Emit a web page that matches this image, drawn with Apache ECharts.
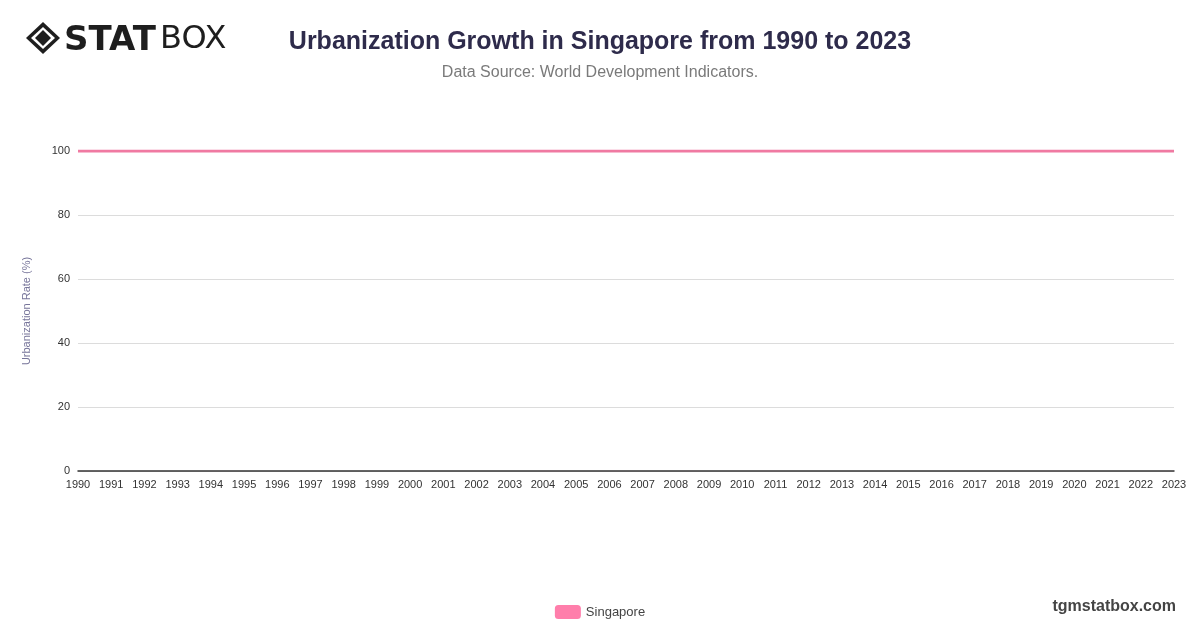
<!DOCTYPE html>
<html>
<head>
    <meta charset="utf-8">
    <script src="https://cdn.jsdelivr.net/npm/echarts@6/dist/echarts.min.js"></script>
</head>
<body style="margin: 0; background: #fff">
    <div id="main" style="width: 1200px; height: 628px"></div>
    <script type="text/javascript">
        var years = ['1990', '1991', '1992', '1993', '1994', '1995', '1996', '1997', '1998', '1999',
            '2000', '2001', '2002', '2003', '2004', '2005', '2006', '2007', '2008', '2009',
            '2010', '2011', '2012', '2013', '2014', '2015', '2016', '2017', '2018', '2019',
            '2020', '2021', '2022', '2023'];
        var singapore = [100, 100, 100, 100, 100, 100, 100, 100, 100, 100,
            100, 100, 100, 100, 100, 100, 100, 100, 100, 100,
            100, 100, 100, 100, 100, 100, 100, 100, 100, 100,
            100, 100, 100, 100];

        var dom = document.getElementById('main');
        var myChart = echarts.init(dom, null, { renderer: 'canvas' });
        var font = 'Helvetica, Arial, "Liberation Sans", sans-serif';

        var option = {
            animation: false,
            backgroundColor: '#fff',
            title: {
                text: 'Urbanization Growth in Singapore from 1990 to 2023',
                subtext: 'Data Source: World Development Indicators.',
                left: 'center',
                top: 25,
                itemGap: 10,
                textStyle: { fontFamily: font, fontSize: 25, fontWeight: 'bold', color: '#2e2b4b' },
                subtextStyle: { fontFamily: font, fontSize: 16, color: '#7a7a7a' }
            },
            legend: {
                bottom: 4,
                left: 'center',
                itemWidth: 26,
                itemHeight: 14,
                icon: 'roundRect',
                textStyle: { fontFamily: font, fontSize: 13, color: '#444' },
                data: ['Singapore']
            },
            grid: { left: 78, right: 26, top: 151, bottom: 157 },
            xAxis: {
                type: 'category',
                boundaryGap: false,
                data: years,
                axisLine: { lineStyle: { color: '#333', width: 1.5 } },
                axisTick: { show: false },
                axisLabel: { fontFamily: font, fontSize: 11, color: '#333', margin: 8, interval: 0 }
            },
            yAxis: {
                type: 'value',
                min: 0,
                max: 100,
                interval: 20,
                name: 'Urbanization Rate (%)',
                nameLocation: 'middle',
                nameGap: 46,
                nameTextStyle: { fontFamily: font, fontSize: 11, color: '#77759a' },
                axisLabel: { fontFamily: font, fontSize: 11, color: '#333', margin: 8 },
                splitLine: { lineStyle: { color: '#dcdcdc' } }
            },
            series: [{
                name: 'Singapore',
                type: 'line',
                data: singapore,
                symbol: 'none',
                itemStyle: { color: '#ff7eab' },
                lineStyle: { color: '#f07aa2', width: 3 }
            }],
            graphic: [
                {
                    type: 'group', left: 26, top: 22,
                    children: [
                        { type: 'polygon', shape: { points: [[17, 0], [34, 16], [17, 32], [0, 16]] }, style: { fill: '#1e1e1e' } },
                        { type: 'polygon', shape: { points: [[17, 5], [29, 16], [17, 27], [5, 16]] }, style: { fill: '#fff' } },
                        { type: 'polygon', shape: { points: [[17, 8], [25, 16], [17, 24], [9, 16]] }, style: { fill: '#1e1e1e' } },
                        { type: 'text', x: 38, y: 2, style: { text: 'STAT', fontFamily: '"DejaVu Sans", sans-serif', fontSize: 34, fontWeight: 900, fill: '#1e1e1e' } },
                        { type: 'text', x: 134, y: 2, style: { text: 'BOX', fontFamily: '"DejaVu Sans", sans-serif', fontSize: 32, fontWeight: 'normal', fill: '#1e1e1e' } }
                    ]
                },
                {
                    type: 'text', right: 24, bottom: 13,
                    style: { text: 'tgmstatbox.com', fontFamily: font, fontSize: 16, fontWeight: 'bold', fill: '#444' }
                }
            ]
        };
        myChart.setOption(option);
    </script>
</body>
</html>
